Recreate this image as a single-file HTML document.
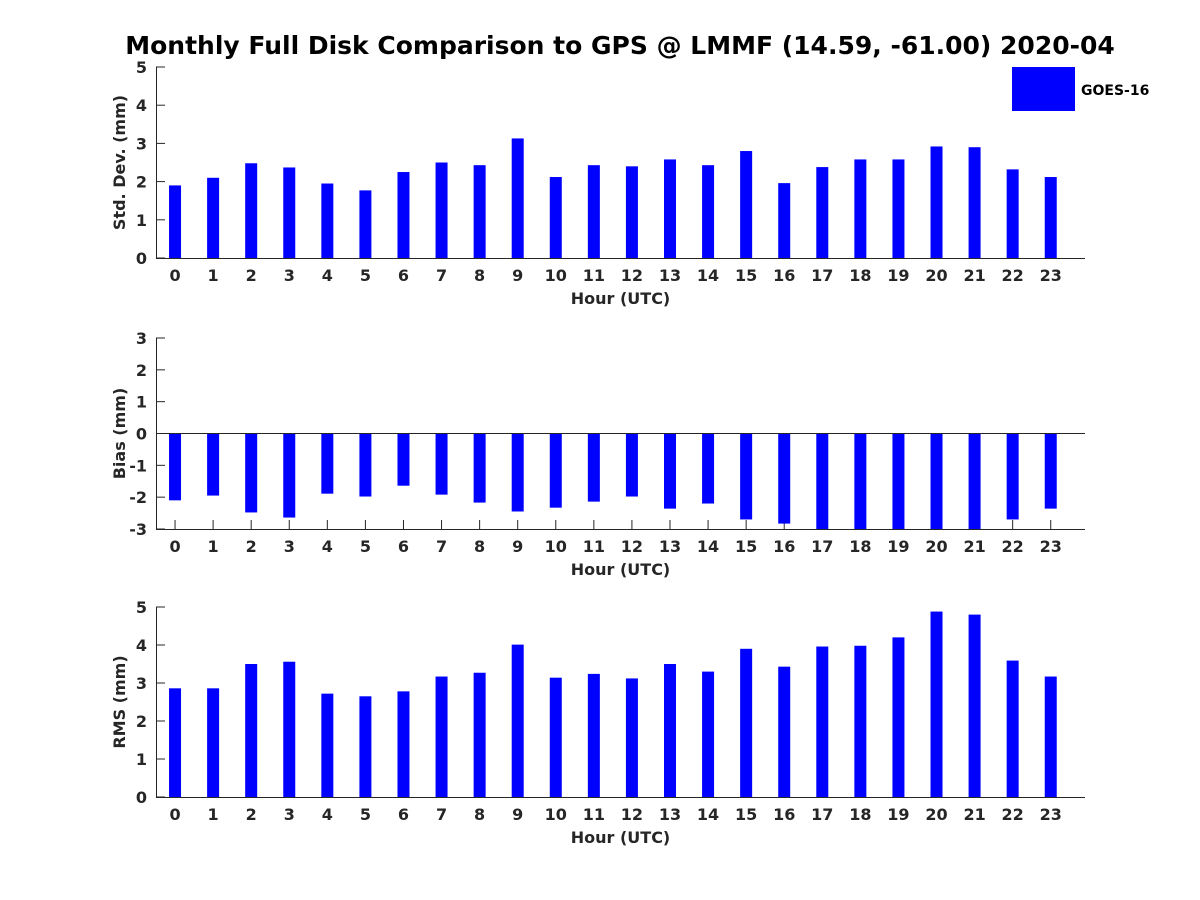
<!DOCTYPE html>
<html><head><meta charset="utf-8"><style>
html,body{margin:0;padding:0;background:#fff;}
svg{display:block;font-family:"DejaVu Sans","Liberation Sans",sans-serif;}
</style></head><body>
<svg id="c" width="1200" height="900">
<text x="620" y="54" text-anchor="middle" font-size="25" font-weight="bold" fill="#000">Monthly Full Disk Comparison to GPS @ LMMF (14.59, -61.00) 2020-04</text>
<rect x="1012" y="67" width="63" height="44" fill="#0000ff"/>
<text x="1081" y="95" font-size="14" font-weight="bold" fill="#000">GOES-16</text>
</svg>
<script>
const hours=[0,1,2,3,4,5,6,7,8,9,10,11,12,13,14,15,16,17,18,19,20,21,22,23];
const stdValues=[1.9,2.1,2.48,2.37,1.95,1.77,2.25,2.5,2.43,3.13,2.12,2.43,2.4,2.58,2.43,2.8,1.96,2.38,2.58,2.58,2.92,2.9,2.32,2.12];
const biasValues=[-2.1,-1.95,-2.48,-2.64,-1.89,-1.98,-1.64,-1.92,-2.17,-2.45,-2.33,-2.14,-1.98,-2.36,-2.2,-2.7,-2.83,-3.2,-3.2,-3.2,-3.2,-3.2,-2.7,-2.36];
const rmsValues=[2.86,2.86,3.5,3.56,2.72,2.65,2.78,3.17,3.27,4.01,3.14,3.24,3.12,3.5,3.3,3.9,3.43,3.96,3.98,4.2,4.88,4.8,3.59,3.17];
const stdTicks=[0,1,2,3,4,5];
const biasTicks=[-3,-2,-1,0,1,2,3];
const rmsTicks=[0,1,2,3,4,5];
const NS='http://www.w3.org/2000/svg';
const svg=document.getElementById('c');
function mk(tag,attrs,parent){const e=document.createElementNS(NS,tag);for(const k in attrs)e.setAttribute(k,attrs[k]);(parent||svg).appendChild(e);return e;}
const X0=156,X1=1085,xmin=-0.5,xmax=23.9;
function xs(v){return X0+(v-xmin)/(xmax-xmin)*(X1-X0);}
function panel(name,top,bottom,ymin,ymax,ticks,vals,ylabel){
  const g=mk('g',{});
  
  
  const ys=v=>bottom-(v-ymin)/(ymax-ymin)*(bottom-top);
  ticks.forEach(t=>{
    const y=ys(t);
    mk('line',{x1:X0,x2:X0+9,y1:y,y2:y,stroke:'#262626'},g);
    const tx=mk('text',{x:X0-9,y:y+6,'text-anchor':'end','font-size':16,'font-weight':'bold',fill:'#262626'},g);
    tx.textContent=t;
    
    
  });
  hours.forEach(h=>{
    const x=xs(h);
    mk('line',{x1:x,x2:x,y1:bottom,y2:bottom-9,stroke:'#262626'},g);
    const tx=mk('text',{x:x,y:bottom+23,'text-anchor':'middle','font-size':16,'font-weight':'bold',fill:'#262626'},g);
    tx.textContent=h;
    
    
  });
  const clip=mk('clipPath',{id:'cl-'+name},g);
  mk('rect',{x:X0,y:top,width:X1-X0,height:bottom-top},clip);
  const bars=mk('g',{'clip-path':'url(#cl-'+name+')'},g);
  const base=Math.max(ymin,Math.min(ymax,0));
  hours.forEach((h,i)=>{
    const v=vals[i];const y1=ys(Math.max(v,base)),y2=ys(Math.min(v,base));
    const r=mk('rect',{x:xs(h)-6,y:y1,width:12,height:y2-y1,fill:'#0000ff'},bars);
    
    
  });
  if(ymin<0&&ymax>0){mk('line',{x1:X0,x2:X1,y1:ys(0),y2:ys(0),stroke:'#262626','stroke-width':1},g);}
  const ax=mk('path',{d:`M${X0+0.5},${top}V${bottom+0.5}H${X1}`,fill:'none',stroke:'#262626','stroke-width':1},g);
  
  
  const xl=mk('text',{x:(X0+X1)/2,y:bottom+46,'text-anchor':'middle','font-size':16,'font-weight':'bold',fill:'#262626'},g);
  xl.textContent='Hour (UTC)';
  
  
  const cy=(top+bottom)/2;
  const yl=mk('text',{x:0,y:0,transform:`translate(125,${cy}) rotate(-90)`,'text-anchor':'middle','font-size':16,'font-weight':'bold',fill:'#262626'},g);
  yl.textContent=ylabel;
  
  
}
panel('std',67,258,0,5,stdTicks,stdValues,'Std. Dev. (mm)');
panel('bias',338,529,-3,3,biasTicks,biasValues,'Bias (mm)');
panel('rms',607,797,0,5,rmsTicks,rmsValues,'RMS (mm)');
</script>
</body></html>
